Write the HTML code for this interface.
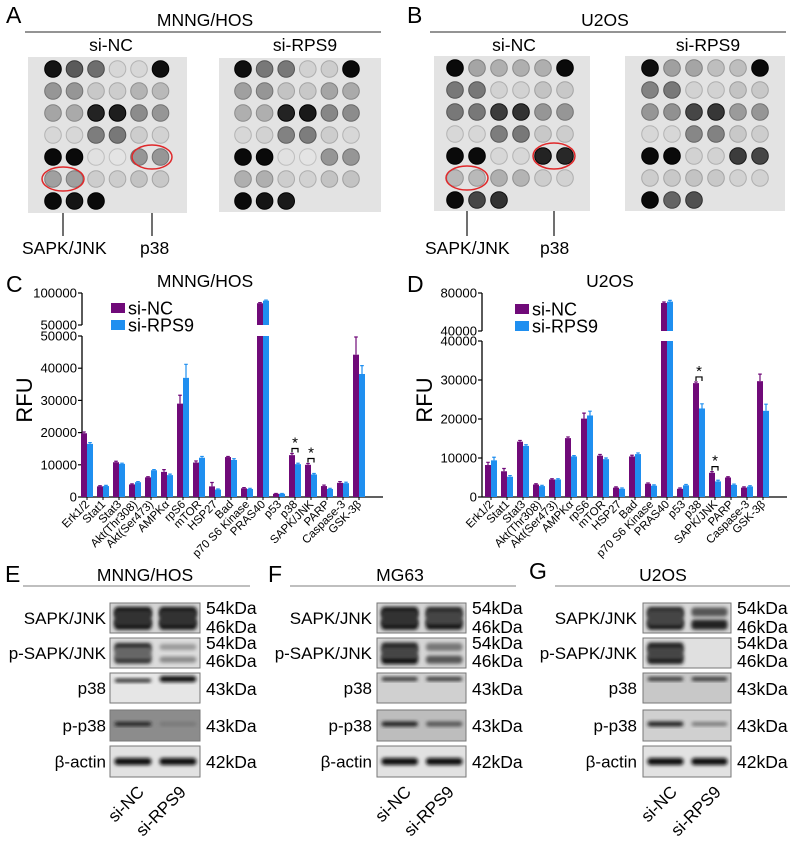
<!DOCTYPE html>
<html><head><meta charset="utf-8">
<style>
html,body{margin:0;padding:0;background:#fff;}
svg{display:block;font-family:"Liberation Sans",Arial,sans-serif;}
</style></head>
<body>
<svg id="fig" width="797" height="841" viewBox="0 0 797 841" xmlns="http://www.w3.org/2000/svg">
<defs>
<filter id="blur2" x="-20%" y="-50%" width="140%" height="200%"><feGaussianBlur stdDeviation="1.8"/></filter>
</defs>
<g>
<text x="6" y="23" font-size="23">A</text>
<text x="205" y="26" font-size="17.5" text-anchor="middle">MNNG/HOS</text>
<line x1="25" y1="32" x2="381" y2="32" stroke="#555" stroke-width="1.3"/>
<text x="111" y="51" font-size="17.5" text-anchor="middle">si-NC</text>
<text x="305" y="51" font-size="17.5" text-anchor="middle">si-RPS9</text>
<line x1="63" y1="191" x2="63" y2="236" stroke="#111" stroke-width="1.2"/>
<line x1="152" y1="169" x2="152" y2="236" stroke="#111" stroke-width="1.2"/>
<text x="22" y="254" font-size="17.5">SAPK/JNK</text>
<text x="140" y="254" font-size="17.5">p38</text>
</g>
<g>
<text x="407" y="23" font-size="23">B</text>
<text x="605" y="26" font-size="17.5" text-anchor="middle">U2OS</text>
<line x1="430" y1="32" x2="786" y2="32" stroke="#555" stroke-width="1.3"/>
<text x="514" y="51" font-size="17.5" text-anchor="middle">si-NC</text>
<text x="708" y="51" font-size="17.5" text-anchor="middle">si-RPS9</text>
<line x1="467" y1="190" x2="467" y2="236" stroke="#111" stroke-width="1.2"/>
<line x1="554" y1="169" x2="554" y2="236" stroke="#111" stroke-width="1.2"/>
<text x="425" y="254" font-size="17.5">SAPK/JNK</text>
<text x="540" y="254" font-size="17.5">p38</text>
</g>
<g id="arrays"></g>
<g id="ellipses">
<ellipse cx="63" cy="179" rx="21" ry="12" fill="none" stroke="#e0282a" stroke-width="1.5"/>
<ellipse cx="152" cy="157" rx="20" ry="12" fill="none" stroke="#e0282a" stroke-width="1.5"/>
<ellipse cx="467" cy="178" rx="21" ry="12" fill="none" stroke="#e0282a" stroke-width="1.5"/>
<ellipse cx="554" cy="156" rx="21" ry="13" fill="none" stroke="#e0282a" stroke-width="1.5"/>
</g>
<text x="6" y="292" font-size="23">C</text>
<text x="205" y="287" font-size="17.5" text-anchor="middle">MNNG/HOS</text>
<text x="407" y="292" font-size="23">D</text>
<text x="610" y="287" font-size="17.5" text-anchor="middle">U2OS</text>
<g id="chartC"></g>
<g id="chartD"></g>
<text x="5" y="582" font-size="23">E</text>
<text x="145" y="581" font-size="17.5" text-anchor="middle">MNNG/HOS</text>
<line x1="23" y1="586" x2="250" y2="586" stroke="#999" stroke-width="1.3"/>
<text x="268" y="582" font-size="23">F</text>
<text x="400" y="581" font-size="17.5" text-anchor="middle">MG63</text>
<line x1="290" y1="586" x2="516" y2="586" stroke="#999" stroke-width="1.3"/>
<text x="529" y="579" font-size="23">G</text>
<text x="663" y="581" font-size="17.5" text-anchor="middle">U2OS</text>
<line x1="555" y1="586" x2="790" y2="586" stroke="#999" stroke-width="1.3"/>
<g id="blots"></g>
</svg>
<script>
const NS = 'http://www.w3.org/2000/svg';
function mk(tag, attrs, parent, txt) {
  const e = document.createElementNS(NS, tag);
  for (const k in attrs) e.setAttribute(k, attrs[k]);
  if (txt !== undefined) e.textContent = txt;
  parent.appendChild(e);
  return e;
}

const dotsANC = [[20,90,110,215,215,15],[150,150,200,205,180,185],[165,170,35,30,140,150],[215,215,125,120,205,210],[10,10,225,228,150,150],[160,160,205,205,195,200],[10,20,10,-1,-1,-1]];
const dotsARPS9 = [[15,120,120,210,205,10],[160,150,195,200,165,170],[175,175,35,25,135,140],[215,210,130,125,205,215],[10,10,225,228,150,150],[175,175,205,210,195,195],[10,20,25,-1,-1,-1]];
const dotsBNC = [[10,165,175,175,175,10],[120,120,210,210,195,200],[120,120,60,50,150,150],[215,215,125,120,200,205],[10,10,215,215,35,40],[185,185,175,180,205,210],[10,70,50,-1,-1,-1]];
const dotsBRPS9 = [[15,160,165,190,190,10],[130,120,210,210,195,200],[150,145,70,55,155,150],[215,215,135,130,200,205],[10,10,210,210,60,70],[205,200,195,200,210,210],[10,100,80,-1,-1,-1]];

const arrG = document.getElementById('arrays');
function dotArray(name, m, bx, by, bw, bh, cx0, step, cy0) {
  const g = mk('g', {}, arrG);
  
  
  const bg = mk('rect', {x: bx, y: by, width: bw, height: bh, fill: '#e3e3e3'}, g);
  
  
  m.forEach((row, r) => row.forEach((v, c) => {
    if (v < 0) return;
    const edge = Math.max(0, v - 35);
    const d = mk('circle', {cx: cx0 + c * step, cy: cy0 + r * 22, r: 8.3, fill: `rgb(${v},${v},${v})`, stroke: `rgb(${edge},${edge},${edge})`, 'stroke-width': 1}, g);
    
    
  }));
}
dotArray('array-a-si-nc', dotsANC, 28, 57, 159, 156, 53, 21.5, 69);
dotArray('array-a-si-rps9', dotsARPS9, 219, 58, 162, 154, 243, 21.6, 69);
dotArray('array-b-si-nc', dotsBNC, 434, 56, 156, 155, 455, 22, 68);
dotArray('array-b-si-rps9', dotsBRPS9, 625, 56, 160, 155, 650, 22, 68);

const categories = ['Erk1/2','Stat1','Stat3','Akt(Thr308)','Akt(Ser473)','AMPK\u03b1','rpS6','mTOR','HSP27','Bad','p70 S6 Kinase','PRAS40','p53','p38','SAPK/JNK','PARP','Caspase-3','GSK-3\u03b2'];
const cNC = [19800,3300,10800,3900,6100,7800,29000,10700,3300,12400,2700,84000,1000,13000,10000,3400,4400,44200];
const cRPS9 = [16500,3400,10300,4600,8300,6800,37000,12200,2300,11500,2500,88000,1000,10200,7000,2500,4300,38200];
const cErrNC = [400,200,300,200,200,700,2600,500,1200,200,200,1000,100,500,400,300,400,5500];
const cErrRPS9 = [400,200,200,200,200,300,4200,400,200,400,200,1000,100,300,300,200,300,2600];
const dNC = [8200,6600,14200,3200,4500,15100,20100,10600,2400,10400,3400,69500,2100,29200,6200,5000,2400,29700];
const dRPS9 = [9400,5200,13100,2800,4500,10400,20900,9700,2100,11000,2900,71000,3000,22700,4000,3100,2700,22100];
const dErrNC = [700,700,300,200,200,300,1400,300,200,300,200,1000,200,300,300,200,200,1800];
const dErrRPS9 = [800,300,300,200,200,200,1100,300,200,300,200,1200,200,1200,300,200,200,1700];
const cLowTicks = [0,10000,20000,30000,40000,50000];
const cUpTicks = [50000,100000];
const dLowTicks = [0,10000,20000,30000,40000];
const dUpTicks = [40000,80000];
const cSig = [13,14];
const dSig = [13,14];

const PURPLE = '#700a79', BLUE = '#1f8ff0';

function drawChart(gid, o) {
  const g = document.getElementById(gid);
  const yLow = v => o.y0 - v / o.lowMax * (o.y0 - o.lowTop);
  const yUp = v => o.upBot - (v - o.lowMax) / (o.upMax - o.lowMax) * (o.upBot - o.upTop);
  const yv = v => v <= o.lowMax ? yLow(v) : yUp(v);
  const xg = i => o.x0 + i * o.step;
  const ax1 = mk('line', {x1: o.ax, y1: o.y0, x2: o.ax, y2: o.lowTop, stroke: '#000', 'stroke-width': 1.3}, g);
  
  
  const ax2 = mk('line', {x1: o.ax, y1: o.upBot, x2: o.ax, y2: o.upTop, stroke: '#000', 'stroke-width': 1.3}, g);
  
  
  const xa = mk('line', {x1: o.ax, y1: o.y0, x2: o.xEnd, y2: o.y0, stroke: '#000', 'stroke-width': 1.3}, g);
  
  
  const ticks = o.lowTicks.map(v => [v, yLow(v)]).concat(o.upTicks.map(v => [v, yUp(v)]));
  ticks.forEach(([v, y]) => {
    const t = mk('line', {x1: o.ax - 4, y1: y, x2: o.ax, y2: y, stroke: '#000', 'stroke-width': 1.2}, g);
    
    
    const l = mk('text', {x: o.ax - 5, y: y + 4.5, 'font-size': 12.5, 'text-anchor': 'end', textLength: String(v).length * 7.3, lengthAdjust: 'spacingAndGlyphs'}, g, String(v));
    
    
  });
  const yt = mk('text', {x: 0, y: 0, 'font-size': 22, 'text-anchor': 'middle', transform: `translate(${o.ax - 50},${o.rfuY}) rotate(-90)`}, g, 'RFU');
  
  
  const bw = 6;
  [[o.nc, o.enc, PURPLE, 0, 'bar-si-nc'], [o.rp, o.erp, BLUE, bw, 'bar-si-rps9']].forEach(([vals, errs, col, off, nm]) => {
    vals.forEach((v, i) => {
      const x = xg(i) + off;
      let top = yv(v);
      if (v > o.lowMax) {
        const b1 = mk('rect', {x: x, y: o.lowTop, width: bw, height: o.y0 - o.lowTop, fill: col}, g);
        
        
        const b2 = mk('rect', {x: x, y: top, width: bw, height: o.upBot - top, fill: col}, g);
        
        
      } else {
        const b = mk('rect', {x: x, y: top, width: bw, height: o.y0 - top, fill: col}, g);
        
        
      }
      const et = yv(v + errs[i]);
      const e = mk('path', {d: `M${x + bw / 2} ${top}V${et}M${x + bw / 2 - 1.8} ${et}H${x + bw / 2 + 1.8}`, stroke: col, 'stroke-width': 1.2, fill: 'none'}, g);
      
      
    });
  });
  o.cats.forEach((c, i) => {
    const cx = xg(i) + bw + 3;
    const t = mk('line', {x1: xg(i) + bw, y1: o.y0, x2: xg(i) + bw, y2: o.y0 + 3, stroke: '#000', 'stroke-width': 1}, g);
    
    
    const l = mk('text', {x: 0, y: 0, 'font-size': 11.5, 'text-anchor': 'end', transform: `translate(${cx},${o.y0 + 8}) rotate(-45)`}, g, c);
    
    
  });
  o.sig.forEach(i => {
    const top = Math.min(yv(o.nc[i] + o.enc[i]), yv(o.rp[i] + o.erp[i])) - 5;
    const x1 = xg(i) + 3, x2 = xg(i) + bw + 3;
    const br = mk('path', {d: `M${x1} ${top + 4}V${top}H${x2}V${top + 4}`, stroke: '#000', 'stroke-width': 1.2, fill: 'none'}, g);
    
    
    const s = mk('text', {x: (x1 + x2) / 2, y: top - 1, 'font-size': 15, 'text-anchor': 'middle'}, g, '*');
    
    
  });
  const lg = mk('g', {}, g);
  
  
  [[PURPLE, 'si-NC', 0], [BLUE, 'si-RPS9', 17]].forEach(([col, lab, dy]) => {
    const r = mk('rect', {x: o.legX, y: o.legY + dy, width: 14, height: 10, fill: col}, lg);
    
    
    const t = mk('text', {x: o.legX + 17, y: o.legY + dy + 11.5, 'font-size': 18}, lg, lab);
    
    
  });
}

drawChart('chartC', {ax: 82, x0: 81, step: 16, xEnd: 383, y0: 497, lowTop: 336, lowMax: 50000, upBot: 325, upTop: 293, upMax: 100000,
  lowTicks: cLowTicks, upTicks: cUpTicks, nc: cNC, rp: cRPS9, enc: cErrNC, erp: cErrRPS9, cats: categories, sig: cSig, rfuY: 400, legX: 111, legY: 303});
drawChart('chartD', {ax: 482, x0: 485, step: 16, xEnd: 787, y0: 497, lowTop: 341, lowMax: 40000, upBot: 331, upTop: 293, upMax: 80000,
  lowTicks: dLowTicks, upTicks: dUpTicks, nc: dNC, rp: dRPS9, enc: dErrNC, erp: dErrRPS9, cats: categories, sig: dSig, rfuY: 400, legX: 515, legY: 304});

const bl = document.getElementById('blots');
const rowsY = [[603,30],[638,30],[673,30],[710,31],[746,31]];
const rowNames = ['SAPK/JNK','p-SAPK/JNK','p38','p-p38','\u03b2-actin'];
const kda = [[['54kDa',613],['46kDa',632]],[['54kDa',648],['46kDa',666]],[['43kDa',694]],[['43kDa',731]],[['42kDa',767]]];
const blotE = [
  ['#d4d4d4', [[0.3,'#111',10],[0.72,'#111',10],[0.5,'#333',16]], [[0.3,'#111',10],[0.72,'#111',10],[0.5,'#333',16]]],
  ['#dcdcdc', [[0.3,'#222',8],[0.72,'#333',8],[0.5,'#666',12]], [[0.3,'#999',6],[0.72,'#888',6]]],
  ['#e6e6e6', [[0.25,'#333',4]], [[0.2,'#111',6]]],
  ['#8c8c8c', [[0.45,'#1a1a1a',4]], [[0.45,'#777',4]]],
  ['#e2e2e2', [[0.5,'#111',7]], [[0.5,'#111',7]]]
];
const blotF = [
  ['#d4d4d4', [[0.3,'#111',10],[0.72,'#111',10],[0.5,'#333',16]], [[0.3,'#222',10],[0.72,'#111',10],[0.5,'#444',14]]],
  ['#d6d6d6', [[0.3,'#222',9],[0.72,'#111',9],[0.5,'#444',12]], [[0.3,'#777',8],[0.72,'#555',8]]],
  ['#d0d0d0', [[0.2,'#333',4]], [[0.2,'#333',4]]],
  ['#bdbdbd', [[0.45,'#222',5]], [[0.45,'#555',5]]],
  ['#e2e2e2', [[0.5,'#111',7]], [[0.5,'#111',7]]]
];
const blotG = [
  ['#d8d8d8', [[0.3,'#222',10],[0.72,'#111',10],[0.5,'#444',16]], [[0.3,'#555',9],[0.72,'#222',10]]],
  ['#e0e0e0', [[0.3,'#1a1a1a',9],[0.72,'#1a1a1a',9],[0.5,'#444',12]], []],
  ['#c8c8c8', [[0.2,'#333',4]], [[0.2,'#333',4]]],
  ['#d0d0d0', [[0.45,'#222',5]], [[0.45,'#777',4]]],
  ['#e2e2e2', [[0.5,'#111',7]], [[0.5,'#111',7]]]
];
function blotPanel(name, data, bx, bw, labRight, kx, ncEnd, rpEnd) {
  const g = mk('g', {}, bl);
  
  
  data.forEach((row, r) => {
    const [y, h] = rowsY[r];
    const bg = mk('rect', {x: bx, y: y, width: bw, height: h, fill: row[0], stroke: '#777', 'stroke-width': 1}, g);
    
    
    [row[1], row[2]].forEach((bands, lane) => {
      const lx = bx + (lane === 0 ? 0.05 : 0.55) * bw, lw = 0.41 * bw;
      bands.forEach(([ry, col, th]) => {
        const b = mk('rect', {x: lx, y: y + ry * h - th / 2, width: lw, height: th, rx: 3, fill: col, filter: 'url(#blur2)'}, g);
        
        
      });
    });
    const l = mk('text', {x: labRight, y: y + h / 2 + 6, 'font-size': 17, 'text-anchor': 'end'}, g, rowNames[r]);
    
    
    kda[r].forEach(([t, yy]) => {
      const k = mk('text', {x: kx, y: yy + 1, 'font-size': 17.5}, g, t);
      
      
    });
  });
  const a = mk('text', {x: 0, y: 0, 'font-size': 17, 'text-anchor': 'end', transform: `translate(${ncEnd},793) rotate(-45)`}, g, 'si-NC');
  
  
  const b = mk('text', {x: 0, y: 0, 'font-size': 17, 'text-anchor': 'end', transform: `translate(${rpEnd},793) rotate(-45)`}, g, 'si-RPS9');
  
  
}
blotPanel('blot-e', blotE, 110, 90, 106, 206, 145, 187);
blotPanel('blot-f', blotF, 377, 89, 372, 472, 412, 455);
blotPanel('blot-g', blotG, 643, 88, 637, 737, 678, 722);
</script>
</body></html>
